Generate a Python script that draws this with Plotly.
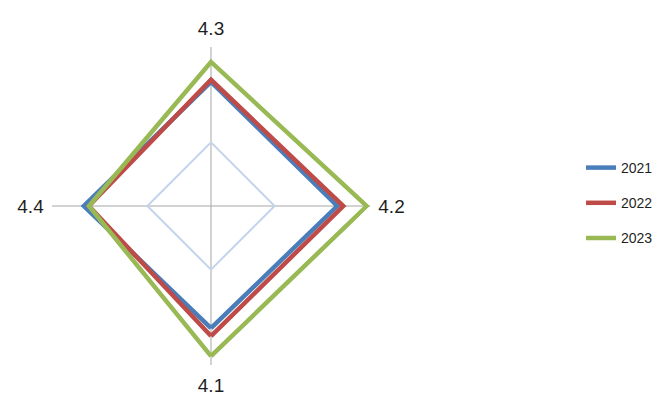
import plotly.graph_objects as go

# Categories (axes of the radar)
categories = ["4.1", "4.2", "4.3", "4.4"]

# Series values
years = ["2021", "2022", "2023"]
values_2021 = [3.84, 3.97, 3.90, 4.00]
values_2022 = [4.09, 4.16, 3.97, 3.84]
values_2023 = [4.72, 4.90, 4.53, 3.84]

series = {"2021": values_2021, "2022": values_2022, "2023": values_2023}
colors = {"2021": "#4A7EBB", "2022": "#BE4B48", "2023": "#98B954"}

fig = go.Figure()

for year in years:
    vals = series[year]
    fig.add_trace(go.Scatterpolar(
        r=vals + vals[:1],
        theta=categories + categories[:1],
        mode="lines",
        name=year,
        legendgroup=year,
        line=dict(color=colors[year], width=4.5),
    ))

W, H = 657, 396
cx, cy, rad = 211, 206, 159

fig.update_layout(
    width=W,
    height=H,
    margin=dict(l=0, r=0, t=0, b=0, autoexpand=False),
    paper_bgcolor="white",
    plot_bgcolor="white",
    font=dict(family="Liberation Sans, Arial, sans-serif", color="#262626"),
    polar=dict(
        domain=dict(
            x=[(cx - rad) / W, (cx + rad) / W],
            y=[(H - cy - rad) / H, (H - cy + rad) / H],
        ),
        bgcolor="white",
        gridshape="linear",
        radialaxis=dict(
            range=[0, 5],
            tickvals=[2],
            showticklabels=False,
            ticks="",
            showline=False,
            gridcolor="#C3D3EC",
            gridwidth=2,
        ),
        angularaxis=dict(
            rotation=270,
            direction="counterclockwise",
            showline=False,
            gridcolor="#A6A6A6",
            gridwidth=1.2,
            ticks="outside",
            ticklen=4,
            tickcolor="rgba(0,0,0,0)",
            tickfont=dict(size=19, color="#1F1F1F"),
        ),
    ),
    showlegend=True,
    legend=dict(
        x=581 / W,
        xanchor="left",
        y=1 - 203 / H,
        yanchor="middle",
        font=dict(size=14, color="#1F1F1F"),
        tracegroupgap=14,
        bgcolor="rgba(0,0,0,0)",
    ),
)

# page body has a default 8px margin; drop it so the figure fills the window
fig.write_html(
    "out.html",
    config={"displayModeBar": False},
    post_script="document.body.style.margin='0';",
)
